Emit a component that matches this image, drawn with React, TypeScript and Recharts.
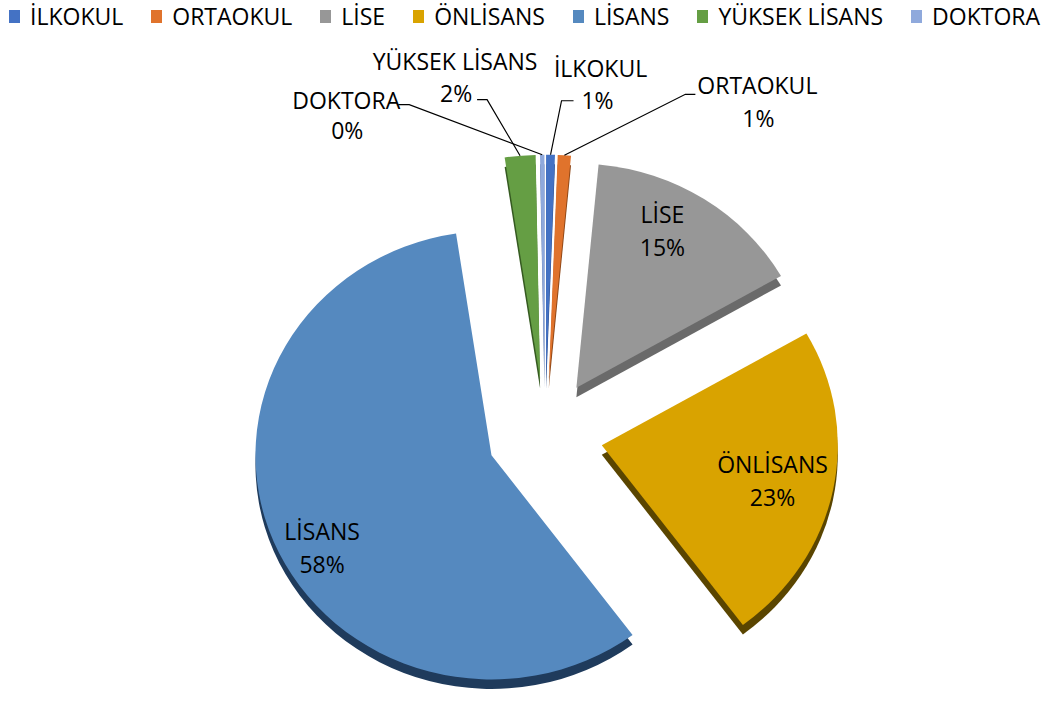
import { PieChart, Pie, Cell } from "recharts";

const categories = ["İLKOKUL", "ORTAOKUL", "LİSE", "ÖNLİSANS", "LİSANS", "YÜKSEK LİSANS", "DOKTORA"];
const shares = [0.6, 0.9, 15.2, 23.1, 57.8, 2.1, 0.3];
const colors = ["#4472C4", "#E0732C", "#979797", "#D9A300", "#5589BF", "#659E44", "#8FA9DC"];
const sideColors = ["#2A4A85", "#8E4616", "#6A6A6A", "#5A4500", "#1F3B5C", "#355A20", "#5C74A6"];

// slices with the label inside (fraction of radius + small nudge), the rest get leader lines
const insideFrac = [0, 0, 0.76, 0.73, 0.81, 0, 0];
const insideNudge = [[0, 0], [0, 0], [-11, -12], [2, 4], [7, 24], [0, 0], [0, 0]];

const data = categories.map((name, i) => ({ name, value: shares[i] }));

const CX = 545;
const CY = 434;
const R = 236;
const EXPLODE = 58;
const DEPTH = 10;
const TILT = 0.95; // slight vertical squash for the 3D look
const RAD = Math.PI / 180;
const FONT = "'Open Sans', sans-serif";
const FS = 23;

const total = shares.reduce((a, b) => a + b, 0);
const midAngles = shares.map((v, i) => {
  const before = shares.slice(0, i).reduce((a, b) => a + b, 0);
  return 90 - (360 * (before + v / 2)) / total;
});

const tiltY = (y: number) => CY + (y - CY) * TILT;

// leader line / text offsets relative to the slice's outer point
const outsideSpots: Record<number, { elbow: number[]; end: number[]; name: number[]; pct: number[] }> = {
  0: { elbow: [11, -54], end: [23, -54], name: [50, -86], pct: [47, -54] },
  1: { elbow: [121, -61], end: [131, -61], name: [193, -69], pct: [194, -36] },
  5: { elbow: [-33, -56], end: [-43, -56], name: [-65, -94], pct: [-64, -62] },
  6: { elbow: [-133, -50], end: [-144, -50], name: [-196, -54], pct: [-195, -24] },
};

function makeLabel(target: number) {
  return (p: any) => {
    if (p.index !== target) return <g key={`l-${p.index}`} />;
    const pct = `${Math.round(p.percent * 100)}%`;
    const a = -p.midAngle * RAD;
    if (insideFrac[target] > 0) {
      const rr = p.outerRadius * insideFrac[target];
      const x = p.cx + rr * Math.cos(a) + insideNudge[target][0];
      const y = tiltY(p.cy + rr * Math.sin(a)) + insideNudge[target][1];
      return (
        <text key={`l-${target}`} x={x} y={y} textAnchor="middle" fontFamily={FONT} fontSize={FS} fill="#000">
          <tspan x={x} dy={-9}>{p.name}</tspan>
          <tspan x={x} dy={33}>{pct}</tspan>
        </text>
      );
    }
    const ox = p.cx + p.outerRadius * Math.cos(a);
    const oy = tiltY(p.cy + p.outerRadius * Math.sin(a));
    const s = outsideSpots[target];
    return (
      <g key={`l-${target}`}>
        <polyline
          points={`${ox},${oy} ${ox + s.elbow[0]},${oy + s.elbow[1]} ${ox + s.end[0]},${oy + s.end[1]}`}
          fill="none"
          stroke="#000"
          strokeWidth={1.2}
        />
        <text x={ox + s.name[0]} y={oy + s.name[1] + 8} textAnchor="middle" fontFamily={FONT} fontSize={FS} fill="#000">
          {p.name}
        </text>
        <text x={ox + s.pct[0]} y={oy + s.pct[1] + 8} textAnchor="middle" fontFamily={FONT} fontSize={FS} fill="#000">
          {pct}
        </text>
      </g>
    );
  };
}

function LegendRow() {
  return (
    <div
      style={{
        position: "absolute",
        left: 9,
        top: 0,
        display: "flex",
        gap: 28,
        fontFamily: FONT,
        fontSize: FS,
        color: "#000",
        whiteSpace: "nowrap",
      }}
    >
      {categories.map((c, i) => (
        <div key={c} style={{ display: "flex", alignItems: "center", gap: 10 }}>
          <span style={{ display: "inline-block", width: 11, height: 13, background: colors[i] }} />
          <span>{c}</span>
        </div>
      ))}
    </div>
  );
}

export default function App() {
  const offsets = midAngles.map((m) => [EXPLODE * Math.cos(m * RAD), -EXPLODE * Math.sin(m * RAD)]);

  return (
    <div style={{ position: "absolute", left: 0, top: 0, width: 1047, height: 702, background: "#fff" }}>
      <style>{`.recharts-pie-sector path { transform-origin: ${CX}px ${CY}px; transform: scaleY(${TILT}); }`}</style>
      <PieChart width={1047} height={702} margin={{ top: 0, right: 0, bottom: 0, left: 0 }}>
        {/* side faces */}
        {categories.map((c, i) => (
          <Pie
            key={`side-${c}`}
            data={data}
            dataKey="value"
            nameKey="name"
            cx={CX + offsets[i][0]}
            cy={CY + offsets[i][1] + DEPTH}
            outerRadius={R}
            startAngle={90}
            endAngle={-270}
            stroke="none"
            isAnimationActive={false}
            legendType="none"
          >
            {data.map((d, j) => (
              <Cell key={`sc-${j}`} fill={j === i ? sideColors[i] : "transparent"} />
            ))}
          </Pie>
        ))}
        {/* top faces */}
        {categories.map((c, i) => (
          <Pie
            key={`top-${c}`}
            data={data}
            dataKey="value"
            nameKey="name"
            cx={CX + offsets[i][0]}
            cy={CY + offsets[i][1]}
            outerRadius={R}
            startAngle={90}
            endAngle={-270}
            stroke="none"
            isAnimationActive={false}
            legendType="none"
            labelLine={false}
            label={makeLabel(i)}
          >
            {data.map((d, j) => (
              <Cell key={`tc-${j}`} fill={j === i ? colors[i] : "transparent"} />
            ))}
          </Pie>
        ))}
      </PieChart>
      <LegendRow />
    </div>
  );
}
